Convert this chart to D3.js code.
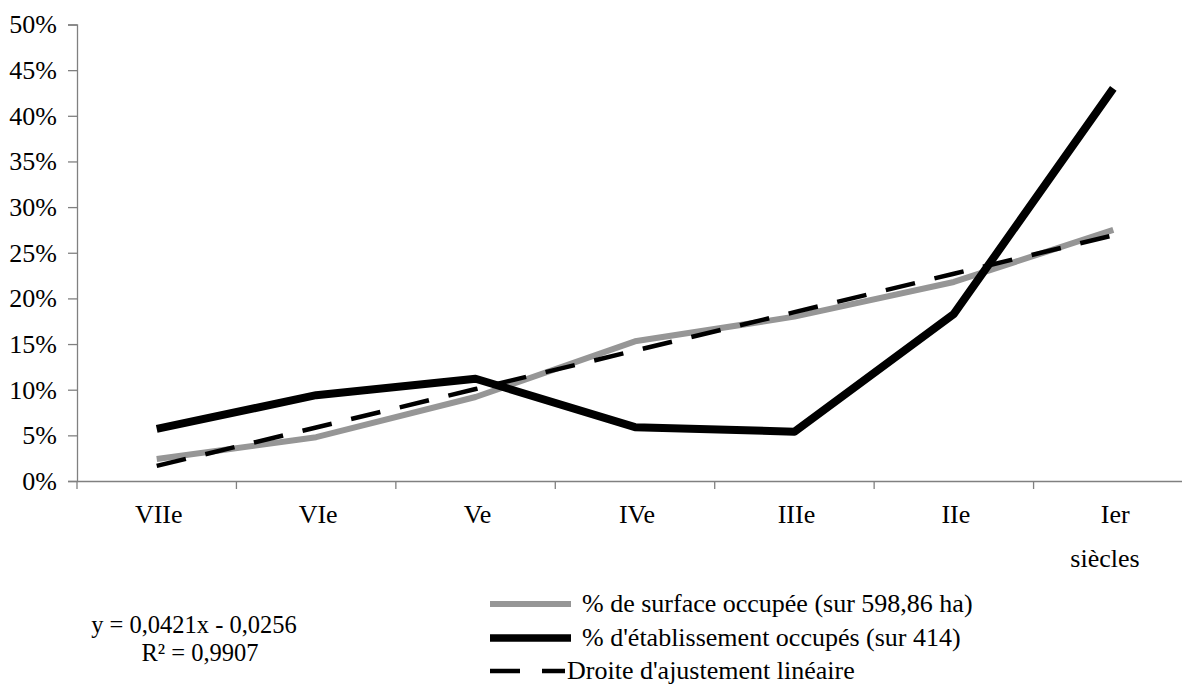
<!DOCTYPE html>
<html>
<head>
<meta charset="utf-8">
<script src="https://cdn.jsdelivr.net/npm/d3@7"></script>
<style>
  html, body { margin: 0; padding: 0; background: #fff; }
  svg { display: block; }
  text { font-family: "Liberation Serif", "Times New Roman", serif; fill: #000; }
</style>
</head>
<body>
<svg id="chart" width="1182" height="684"></svg>
<script>
const categories = ["VIIe", "VIe", "Ve", "IVe", "IIIe", "IIe", "Ier"];
const surface = [2.4, 4.8, 9.2, 15.3, 18.0, 21.8, 27.5];
const etablissements = [5.7, 9.4, 11.2, 5.9, 5.4, 18.3, 43.0];
const trend = [1.65, 5.86, 10.07, 14.28, 18.49, 22.70, 26.91];
const yTicks = [0, 5, 10, 15, 20, 25, 30, 35, 40, 45, 50];
const legendLabels = [
  "% de surface occupée (sur 598,86 ha)",
  "% d'établissement occupés (sur 414)",
  "Droite d'ajustement linéaire"
];
const axisTitle = "siècles";
const equationLines = ["y = 0,0421x - 0,0256", "R\u00B2 = 0,9907"];

(function () {
const svg = d3.select("#chart");
const pLeft = 77, pRight = 1193, pTop = 24.5, pBottom = 481;

const x = d3.scaleBand().domain(categories).range([pLeft, pRight]);
const y = d3.scaleLinear().domain([0, 50]).range([pBottom, pTop]);

// Y axis
const yAxis = svg.append("g").attr("transform", `translate(${pLeft},0)`)
  .call(d3.axisLeft(y).tickValues(yTicks).tickFormat(d => d + "%").tickSize(9).tickPadding(11))
  .attr("font-family", "Liberation Serif").attr("font-size", 26);
yAxis.select(".domain").attr("stroke", "#808080").attr("stroke-width", 1.3);
yAxis.selectAll(".tick line").attr("stroke", "#808080").attr("stroke-width", 1.3);
yAxis.selectAll(".tick text").attr("fill", "#000");

// X axis
const xAxis = svg.append("g").attr("transform", `translate(0,${pBottom})`)
  .call(d3.axisBottom(x).tickSize(0).tickPadding(0));
xAxis.select(".domain").attr("stroke", "#808080").attr("stroke-width", 1.3);
xAxis.selectAll(".tick").remove();
const boundaries = categories.map(c => x(c)).concat([x(categories[categories.length - 1]) + x.bandwidth()]);
xAxis.selectAll("line.bnd").data(boundaries).enter().append("line")
  .attr("class", "bnd")
  .attr("x1", d => d).attr("x2", d => d).attr("y1", 0).attr("y2", 8)
  .attr("stroke", "#808080").attr("stroke-width", 1.3);
svg.append("g").selectAll("text").data(categories).enter().append("text")
  .attr("x", d => x(d) + x.bandwidth() / 2 + 2)
  .attr("y", 523)
  .attr("text-anchor", "middle")
  .attr("font-size", 26)
  .text(d => d);
svg.append("text").attr("x", 1105).attr("y", 567).attr("text-anchor", "middle")
  .attr("font-size", 26).text(axisTitle);

// Lines
const line = d3.line()
  .x((d, i) => x(categories[i]) + x.bandwidth() / 2)
  .y(d => y(d));

svg.append("path").datum(surface).attr("d", line)
  .attr("fill", "none").attr("stroke", "#969696").attr("stroke-width", 6)
  .attr("stroke-linejoin", "round");
svg.append("path").datum(etablissements).attr("d", line)
  .attr("fill", "none").attr("stroke", "#000").attr("stroke-width", 8)
  .attr("stroke-linejoin", "round");
svg.append("path").datum(trend).attr("d", line)
  .attr("fill", "none").attr("stroke", "#000").attr("stroke-width", 4.5)
  .attr("stroke-dasharray", "30,20");

// Legend
const legendRows = [
  { y: 604, stroke: "#969696", w: 6, dash: null, x2: 571, tx: 582 },
  { y: 638, stroke: "#000", w: 7.5, dash: null, x2: 571, tx: 582 },
  { y: 671, stroke: "#000", w: 4.5, dash: "30,22", x2: 565, tx: 567 }
];
const lg = svg.append("g");
legendRows.forEach((r, i) => {
  lg.append("line").attr("x1", 490).attr("x2", r.x2).attr("y1", r.y).attr("y2", r.y)
    .attr("stroke", r.stroke).attr("stroke-width", r.w)
    .attr("stroke-dasharray", r.dash);
  lg.append("text").attr("x", r.tx).attr("y", r.y + 8).attr("font-size", 26)
    .text(legendLabels[i]);
});

// Equation
svg.append("text").attr("x", 194).attr("y", 633).attr("text-anchor", "middle")
  .attr("font-size", 24.5).text(equationLines[0]);
svg.append("text").attr("x", 200).attr("y", 661).attr("text-anchor", "middle")
  .attr("font-size", 24.5).text(equationLines[1]);
})();
</script>
</body>
</html>
